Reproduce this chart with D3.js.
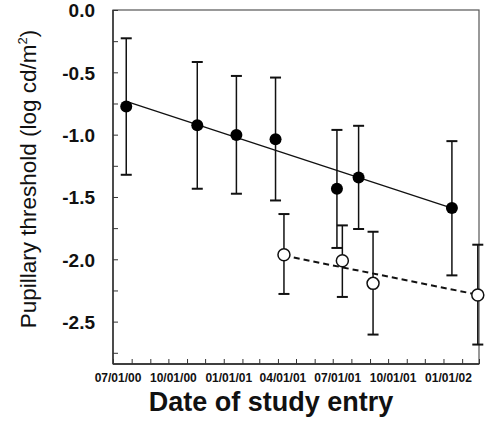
<!DOCTYPE html>
<html><head><meta charset="utf-8">
<script src="https://cdn.jsdelivr.net/npm/d3@7"></script>
<style>body{margin:0;background:#fff}svg{display:block;font-family:Arial,"Liberation Sans",Helvetica,sans-serif}</style>
</head><body><svg id="c" width="485" height="439"></svg>
<script>
const filledDates = ["2000-07-23","2000-11-18","2001-01-22","2001-03-28","2001-07-08","2001-08-13","2002-01-15"];
const filledMean = [-0.775,-0.924,-1.002,-1.036,-1.434,-1.344,-1.589];
const filledHigh = [-0.227,-0.417,-0.529,-0.542,-0.962,-0.929,-1.052];
const filledLow = [-1.322,-1.434,-1.474,-1.528,-1.909,-1.757,-2.129];
const openDates = ["2001-04-11","2001-07-17","2001-09-06","2002-02-27"];
const openMean = [-1.963,-2.011,-2.193,-2.286];
const openHigh = [-1.637,-1.728,-1.779,-1.883];
const openLow = [-2.278,-2.302,-2.604,-2.684];
const fitFilledValues = [-0.733,-1.589];
const fitOpenValues = [-1.97,-2.284];
const yTickLabels = [0,-0.5,-1.0,-1.5,-2.0,-2.5];
const xTickLabels = ["2000-07-01","2000-10-01","2001-01-01","2001-04-01","2001-07-01","2001-10-01","2002-01-01"];

const parse = d3.timeParse("%Y-%m-%d");
const svg = d3.select("#c");
const L=113,R=479,T=10,B=364;
const x = d3.scaleTime().domain([parse("2000-07-01"),parse("2002-03-01")]).range([L,R]);
const y = d3.scaleLinear().domain([0,-2.84]).range([T,B]);

// frame
svg.append("rect").attr("x",L).attr("y",T).attr("width",R-L).attr("height",B-T)
  .attr("fill","none").attr("stroke","#555").attr("stroke-width",1.2);
svg.append("line").attr("x1",L).attr("x2",L).attr("y1",T).attr("y2",B).attr("stroke","#222").attr("stroke-width",1.3);
svg.append("line").attr("x1",L).attr("x2",R).attr("y1",B).attr("y2",B).attr("stroke","#222").attr("stroke-width",1.3);

// y axis
const yAxis = d3.axisLeft(y).tickValues(d3.range(0,-2.76,-0.25)).tickSizeInner(-5).tickSizeOuter(0).tickFormat("");
svg.append("g").attr("transform",`translate(${L},0)`).call(yAxis)
  .call(g=>{g.select(".domain").remove();g.selectAll("line").attr("stroke","#333");});
svg.append("g").selectAll("text").data(yTickLabels).join("text")
  .attr("x",95).attr("y",d=>y(d)).attr("dy","0.38em").attr("text-anchor","end")
  .attr("font-size",19).attr("font-weight","bold").attr("fill","#111")
  .text(d=>d.toFixed(1).replace("\u2212","-"));

// x axis
const xAxis = d3.axisBottom(x).ticks(d3.timeMonth.every(1)).tickSizeInner(-5).tickSizeOuter(0).tickFormat("");
svg.append("g").attr("transform",`translate(0,${B})`).call(xAxis)
  .call(g=>{g.select(".domain").remove();g.selectAll("line").attr("stroke","#333");});
const fmt = d3.timeFormat("%m/%d/%y");
svg.append("g").selectAll("text").data(xTickLabels.map(parse)).join("text")
  .attr("x",d=>x(d)+5).attr("y",382).attr("text-anchor","middle")
  .attr("font-size",12).attr("font-weight","bold").attr("fill","#111")
  .text(d=>fmt(d));

// titles
svg.append("text").attr("x",271).attr("y",411).attr("text-anchor","middle")
  .attr("font-size",27).attr("font-weight","bold").attr("fill","#111").text("Date of study entry");
const yt = svg.append("text").attr("transform","translate(36,179) rotate(-90)").attr("text-anchor","middle")
  .attr("font-size",22.5).attr("fill","#111");
yt.append("tspan").text("Pupillary threshold (log cd/m");
yt.append("tspan").attr("font-size",13).attr("dy",-9).text("2");
yt.append("tspan").attr("dy",9).text(")");

const filled = filledDates.map((d,i)=>({d:parse(d),m:filledMean[i],h:filledHigh[i],l:filledLow[i]}));
const open = openDates.map((d,i)=>({d:parse(d),m:openMean[i],h:openHigh[i],l:openLow[i]}));

// fit lines
const line = d3.line().x(p=>x(p[0])).y(p=>y(p[1]));
svg.append("path").attr("d",line([[filled[0].d,fitFilledValues[0]],[filled[filled.length-1].d,fitFilledValues[1]]]))
  .attr("stroke","#111").attr("stroke-width",1.3).attr("fill","none");
svg.append("path").attr("d",line([[open[0].d,fitOpenValues[0]],[open[open.length-1].d,fitOpenValues[1]]]))
  .attr("stroke","#111").attr("stroke-width",2).attr("stroke-dasharray","6,4").attr("fill","none");

function errBars(data){
  const g = svg.append("g").attr("stroke","#111");
  g.selectAll(".v").data(data).join("line").attr("x1",d=>x(d.d)).attr("x2",d=>x(d.d))
    .attr("y1",d=>y(d.h)).attr("y2",d=>y(d.l)).attr("stroke-width",1.5);
  g.selectAll(".t").data(data).join("line").attr("x1",d=>x(d.d)-5.5).attr("x2",d=>x(d.d)+5.5)
    .attr("y1",d=>y(d.h)).attr("y2",d=>y(d.h)).attr("stroke-width",2);
  g.selectAll(".b").data(data).join("line").attr("x1",d=>x(d.d)-5.5).attr("x2",d=>x(d.d)+5.5)
    .attr("y1",d=>y(d.l)).attr("y2",d=>y(d.l)).attr("stroke-width",2);
}
errBars(filled); errBars(open);

svg.append("g").selectAll("circle").data(filled).join("circle")
  .attr("cx",d=>x(d.d)).attr("cy",d=>y(d.m)).attr("r",6).attr("fill","#000");
svg.append("g").selectAll("circle").data(open).join("circle")
  .attr("cx",d=>x(d.d)).attr("cy",d=>y(d.m)).attr("r",6).attr("fill","#fff").attr("stroke","#111").attr("stroke-width",1.5);
</script></body></html>
